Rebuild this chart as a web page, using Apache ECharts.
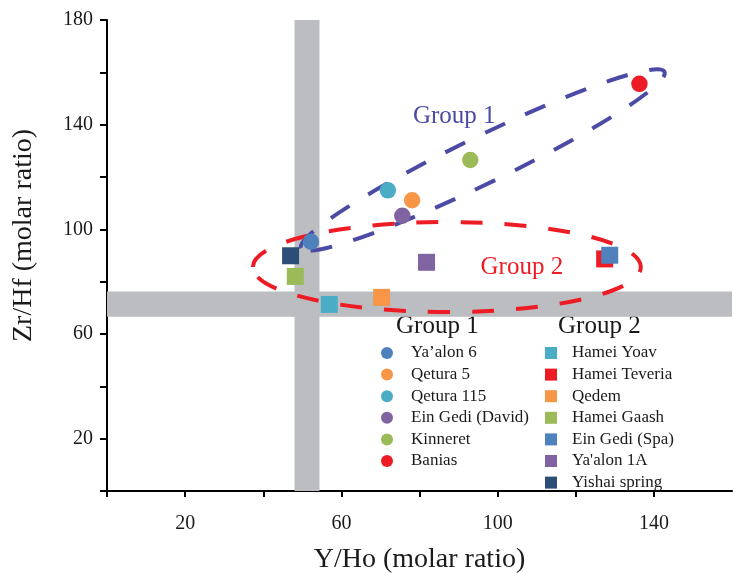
<!DOCTYPE html>
<html>
<head>
<meta charset="utf-8">
<script src="https://cdn.jsdelivr.net/npm/echarts@6/dist/echarts.min.js"></script>
<style>
  html, body { margin: 0; padding: 0; background: #ffffff; }
  #chart { width: 733px; height: 573px; }
</style>
</head>
<body>
<div id="chart"></div>
<script>
// Group 1 springs (circles)
const group1Names = ['Ya’alon 6', 'Qetura 5', 'Qetura 115', 'Ein Gedi (David)', 'Kinneret', 'Banias'];
const group1YHo  = [52.2, 78.1, 71.9, 75.6, 93.0, 136.3];
const group1ZrHf = [95.3, 111.1, 114.9, 105.2, 126.5, 155.6];

// Group 2 springs (squares)
const group2Names = ['Hamei Yoav', 'Hamei Teveria', 'Qedem', 'Hamei Gaash', 'Ein Gedi (Spa)', "Ya'alon 1A", 'Yishai spring'];
const group2YHo  = [56.9, 127.4, 70.3, 48.2, 128.7, 81.8, 47.0];
const group2ZrHf = [71.3, 88.7, 74.0, 82.0, 90.1, 87.4, 89.9];

// Axis ticks and labelled values
const xTickValues = [0, 20, 40, 60, 80, 100, 120, 140];
const xTickLabels = [20, 60, 100, 140];
const yTickValues = [0, 20, 40, 60, 80, 100, 120, 140, 160, 180];
const yTickLabels = [20, 60, 100, 140, 180];

// Chondritic ranges shown as grey bands
const yHoBand  = [48, 54.4];
const zrHfBand = [66.6, 76.2];

// Styling
const FONT = '"Liberation Serif", "Times New Roman", serif';
const group1Colors = ['#4F81BD', '#F79646', '#4BACC6', '#8064A2', '#9BBB59', '#ED1C24'];
const group2Colors = ['#4BACC6', '#ED1C24', '#F79646', '#9BBB59', '#4F81BD', '#8064A2', '#2C4D75'];

// Dashed envelopes around each group (centre and label anchor in data units, radii in pixels)
const envelopes = [
  { name: 'Group 1', center: [96.2, 126.5], rx: 202, ry: 23.5, angle: 25.9, color: '#4B4BA6', labelAt: [88.9, 143.3] },
  { name: 'Group 2', center: [87.0, 85.6],  rx: 194, ry: 45,   angle: 0,    color: '#ED1C24', labelAt: [106.2, 85.3] }
];

const chart = echarts.init(document.getElementById('chart'), null, { renderer: 'canvas' });

const series = [];

// grey reference bands
series.push({
  type: 'scatter',
  name: '__bands',
  data: [],
  z: -1,
  silent: true,
  markArea: {
    silent: true,
    itemStyle: { color: '#BCBDC0', opacity: 1 },
    data: [
      [{ xAxis: yHoBand[0] }, { xAxis: yHoBand[1] }],
      [{ yAxis: zrHfBand[0] }, { yAxis: zrHfBand[1] }]
    ]
  }
});

// group envelopes
series.push({
  type: 'custom',
  name: '__envelopes',
  silent: true,
  clip: false,
  z: 1,
  data: envelopes.map(e => e.center),
  renderItem: function (params, api) {
    const e = envelopes[params.dataIndex];
    const c = api.coord(e.center);
    const t = api.coord(e.labelAt);
    return {
      type: 'group',
      children: [
        {
          type: 'ellipse',
          x: c[0], y: c[1],
          rotation: e.angle * Math.PI / 180,
          shape: { cx: 0, cy: 0, rx: e.rx, ry: e.ry },
          style: { fill: 'none', stroke: e.color, lineWidth: 4, lineDash: [22, 22] }
        },
        {
          type: 'text',
          x: t[0], y: t[1],
          style: {
            text: e.name, fill: e.color,
            fontSize: 25, fontFamily: FONT,
            align: 'center', verticalAlign: 'middle'
          }
        }
      ]
    };
  }
});

group1Names.forEach((name, i) => {
  series.push({
    type: 'scatter', name: name, z: 3,
    symbol: 'circle', symbolSize: 16.5,
    itemStyle: { color: group1Colors[i], opacity: 1 },
    data: [[group1YHo[i], group1ZrHf[i]]]
  });
});
group2Names.forEach((name, i) => {
  series.push({
    type: 'scatter', name: name, z: 3,
    symbol: 'rect', symbolSize: 17,
    itemStyle: { color: group2Colors[i], opacity: 1 },
    data: [[group2YHo[i], group2ZrHf[i]]]
  });
});

const legendText = { fontFamily: FONT, fontSize: 17, color: '#1a1a1a', lineHeight: 20 };

const option = {
  backgroundColor: '#ffffff',
  animation: false,
  grid: { left: 107, right: 1, top: 20, bottom: 82, containLabel: false, outerBoundsMode: 'none' },
  xAxis: {
    type: 'value', min: 0, max: 160, interval: 20,
    name: 'Y/Ho (molar ratio)', nameLocation: 'middle', nameGap: 55,
    nameTextStyle: { fontFamily: FONT, fontSize: 28, color: '#1a1a1a' },
    axisLine: { show: true, onZero: false, lineStyle: { color: '#000', width: 2 } },
    axisTick: { show: true, length: 6, lineStyle: { color: '#000', width: 2 }, customValues: xTickValues },
    axisLabel: {
      fontFamily: FONT, fontSize: 20, color: '#1a1a1a', margin: 23,
      customValues: xTickLabels
    },
    splitLine: { show: false }
  },
  yAxis: {
    type: 'value', min: 0, max: 180, interval: 20,
    name: 'Zr/Hf (molar ratio)', nameLocation: 'middle', nameGap: 69,
    nameTextStyle: { fontFamily: FONT, fontSize: 28, color: '#1a1a1a', padding: [0, 0, 0, 40] },
    axisLine: { show: true, onZero: false, lineStyle: { color: '#000', width: 2 } },
    axisTick: { show: true, length: 7, lineStyle: { color: '#000', width: 2 }, customValues: yTickValues },
    axisLabel: {
      fontFamily: FONT, fontSize: 20, color: '#1a1a1a', margin: 14,
      customValues: yTickLabels
    },
    splitLine: { show: false }
  },
  legend: [
    {
      data: group1Names.map(n => ({ name: n, icon: 'circle' })),
      orient: 'vertical', left: 381, top: 343, padding: 0,
      itemWidth: 12, itemHeight: 12, itemGap: 1.6,
      selectedMode: false,
      textStyle: Object.assign({ padding: [0, 0, 0, 13] }, legendText)
    },
    {
      data: group2Names.map(n => ({ name: n, icon: 'rect' })),
      orient: 'vertical', left: 545, top: 343, padding: 0,
      itemWidth: 12, itemHeight: 12, itemGap: 1.6,
      selectedMode: false,
      textStyle: Object.assign({ padding: [0, 0, 0, 10] }, legendText)
    }
  ],
  graphic: [
    { type: 'text', left: 396, top: 314, style: { text: 'Group 1', fontSize: 25, fontFamily: FONT, fill: '#1a1a1a' } },
    { type: 'text', left: 558, top: 314, style: { text: 'Group 2', fontSize: 25, fontFamily: FONT, fill: '#1a1a1a' } }
  ],
  series: series
};

chart.setOption(option);
</script>
</body>
</html>
